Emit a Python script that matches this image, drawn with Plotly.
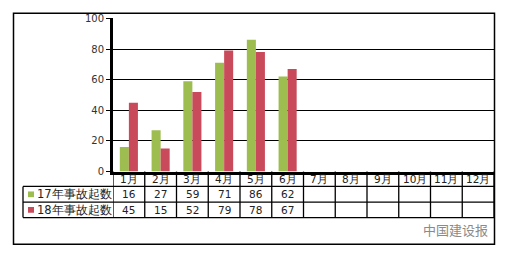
import plotly.graph_objects as go

months = ["1月", "2月", "3月", "4月", "5月", "6月", "7月", "8月", "9月", "10月", "11月", "12月"]
series_names = ["17年事故起数", "18年事故起数"]
accidents_2017 = [16, 27, 59, 71, 86, 62, None, None, None, None, None, None]
accidents_2018 = [45, 15, 52, 79, 78, 67, None, None, None, None, None, None]
y_ticks = [0, 20, 40, 60, 80, 100]

W, H = 506, 258
GREEN = "#9dbd50"
RED = "#c94b5b"
FONT = "DejaVu Sans"


def px(x):
    return x / W


def py(y):
    return 1 - y / H


# plot area in pixels
PL, PR, PT, PB = 113, 494, 14, 174
ROW1, ROW2, ROW3 = 189.5, 206, 222
TABLE_LEFT = 23

fig = go.Figure()
fig.add_trace(go.Bar(x=months, y=accidents_2017, name=series_names[0],
                     marker=dict(color=GREEN, line=dict(width=0))))
fig.add_trace(go.Bar(x=months, y=accidents_2018, name=series_names[1],
                     marker=dict(color=RED, line=dict(width=0))))

shapes = []
annotations = []
# outer border
shapes.append(dict(type="rect", xref="paper", yref="paper",
                   x0=px(13.5), x1=px(494.5), y0=py(8.5), y1=py(250),
                   line=dict(color="black", width=1.5)))
# table horizontal lines
for yy in (ROW1, ROW2, ROW3):
    shapes.append(dict(type="line", xref="paper", yref="paper",
                       x0=px(TABLE_LEFT), x1=px(PR), y0=py(yy), y1=py(yy),
                       line=dict(color="black", width=1.3)))
# legend column left edge
shapes.append(dict(type="line", xref="paper", yref="paper",
                   x0=px(TABLE_LEFT), x1=px(TABLE_LEFT), y0=py(ROW1), y1=py(ROW3),
                   line=dict(color="black", width=1.3)))
# column separators (through the category scale)
for i in range(len(months) + 1):
    shapes.append(dict(type="line", xref="x", yref="paper",
                       x0=i - 0.5, x1=i - 0.5, y0=py(PB), y1=py(ROW3),
                       line=dict(color="black", width=1.3)))

# month header row
for m in months:
    annotations.append(dict(x=m, y=py((PB + ROW1) / 2), xref="x", yref="paper",
                            text=m, showarrow=False, font=dict(size=10.5, color="#222", family=FONT),
                            xanchor="center", yanchor="middle"))
# data rows
for vals, yc in ((accidents_2017, (ROW1 + ROW2) / 2), (accidents_2018, (ROW2 + ROW3) / 2)):
    for m, v in zip(months, vals):
        if v is None:
            continue
        annotations.append(dict(x=m, y=py(yc), xref="x", yref="paper",
                                text=str(v), showarrow=False,
                                font=dict(size=10.5, color="#222", family=FONT),
                                xanchor="center", yanchor="middle"))
# legend cells
for name, col, yc in ((series_names[0], GREEN, (ROW1 + ROW2) / 2),
                      (series_names[1], RED, (ROW2 + ROW3) / 2)):
    shapes.append(dict(type="rect", xref="paper", yref="paper",
                       x0=px(28), x1=px(34), y0=py(yc + 3), y1=py(yc - 3),
                       fillcolor=col, line=dict(width=0)))
    annotations.append(dict(x=px(35), y=py(yc), xref="paper", yref="paper",
                            text=name, showarrow=False,
                            font=dict(size=11.5, color="#222", family=FONT),
                            xanchor="left", yanchor="middle"))

# watermark
annotations.append(dict(x=px(490), y=py(235), xref="paper", yref="paper",
                        text="中国建设报", showarrow=False,
                        font=dict(size=13, color="#8a8a8a", family="Noto Sans CJK SC"),
                        xanchor="right", yanchor="middle"))

fig.update_layout(
    width=W, height=H,
    margin=dict(l=0, r=0, t=0, b=0),
    paper_bgcolor="white", plot_bgcolor="white",
    barmode="group", bargap=0.43, bargroupgap=0,
    showlegend=False,
    shapes=shapes, annotations=annotations,
    xaxis=dict(domain=[px(PL), px(PR)], range=[-0.5, 11.5], showticklabels=False,
               ticks="", showgrid=False, zeroline=False,
               showline=True, linecolor="black", linewidth=2.5),
    yaxis=dict(domain=[py(PB), py(PT)], range=[0, 100], tickvals=y_ticks,
               showgrid=True, gridcolor="black", gridwidth=1,
               zeroline=False, showline=True, linecolor="black", linewidth=3,
               ticks="outside", ticklen=4, tickcolor="black",
               tickfont=dict(size=10, color="#333", family=FONT)),
)

fig.write_html("out.html")
